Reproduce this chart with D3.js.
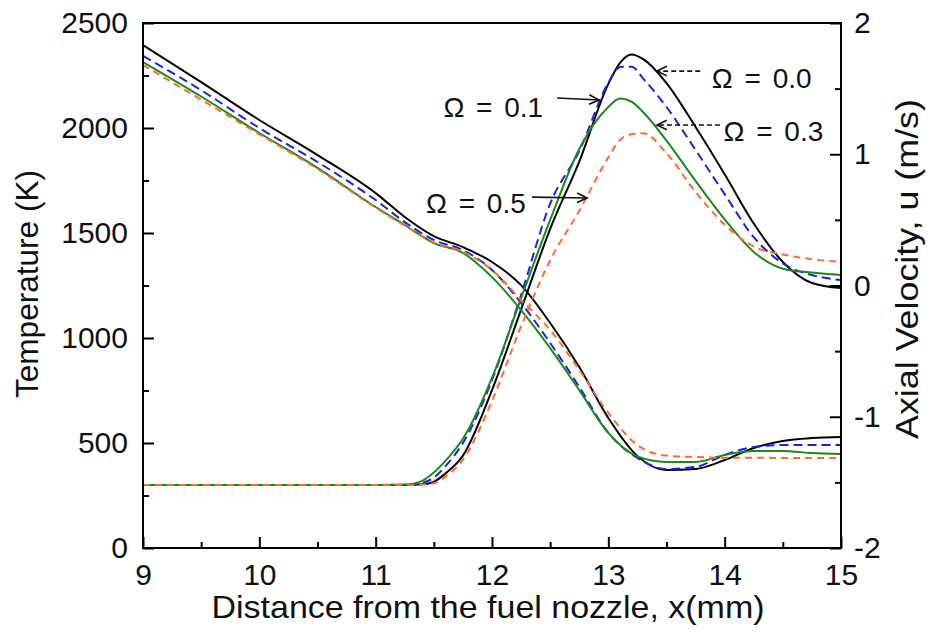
<!DOCTYPE html>
<html>
<head>
<meta charset="utf-8">
<script src="https://cdn.jsdelivr.net/npm/d3@7"></script>
<style>
  html, body { margin: 0; padding: 0; background: #fff; }
  svg { display: block; }
  text { font-family: "Liberation Sans", Arial, sans-serif; fill: #111; }
</style>
</head>
<body>
<svg id="chart" width="931" height="633"></svg>
<script>
// ---------------- data ----------------
const seriesNames = ["Ω = 0.0", "Ω = 0.1", "Ω = 0.3", "Ω = 0.5"];

// Temperature profiles (K), left axis
const xTemp = [9, 11, 11.25, 11.4, 11.5, 11.6, 11.75, 12, 12.25, 12.5, 12.75, 13, 13.1, 13.2, 13.3, 13.5, 13.75, 14, 14.25, 14.5, 14.75, 15];
const tempOmega00 = [300, 300, 300, 303, 315, 355, 440, 752, 1135, 1520, 1840, 2210, 2310, 2350, 2328, 2214, 2005, 1780, 1545, 1362, 1262, 1238];
const tempOmega01 = [300, 300, 300, 310, 335, 390, 500, 800, 1205, 1640, 1890, 2215, 2290, 2292, 2235, 2100, 1895, 1685, 1480, 1355, 1300, 1276];
const tempOmega03 = [300, 300, 302, 320, 360, 415, 520, 810, 1190, 1562, 1900, 2100, 2140, 2125, 2075, 1940, 1748, 1565, 1410, 1330, 1312, 1300];
const tempOmega05 = [300, 300, 300, 302, 308, 340, 420, 700, 1055, 1370, 1605, 1860, 1943, 1970, 1975, 1880, 1695, 1540, 1435, 1398, 1375, 1362];

// Axial velocity profiles (m/s), right axis
const xVel = [9, 9.5, 10, 10.5, 11, 11.25, 11.5, 11.75, 12, 12.25, 12.5, 12.75, 13, 13.25, 13.5, 13.75, 14, 14.25, 14.5, 14.75, 15];
const velOmega00 = [1.832, 1.550, 1.261, 0.994, 0.704, 0.522, 0.376, 0.293, 0.179, 0.003, -0.286, -0.621, -1.010, -1.300, -1.406, -1.398, -1.330, -1.238, -1.184, -1.162, -1.154];
const velOmega01 = [1.749, 1.488, 1.200, 0.941, 0.651, 0.483, 0.347, 0.270, 0.118, -0.133, -0.438, -0.773, -1.123, -1.314, -1.398, -1.382, -1.291, -1.230, -1.216, -1.216, -1.216];
const velOmega03 = [1.702, 1.440, 1.162, 0.896, 0.598, 0.461, 0.323, 0.248, 0.064, -0.187, -0.477, -0.797, -1.123, -1.302, -1.344, -1.344, -1.291, -1.261, -1.261, -1.277, -1.283];
const velOmega05 = [1.680, 1.416, 1.152, 0.888, 0.592, 0.456, 0.328, 0.256, 0.118, -0.110, -0.339, -0.643, -0.971, -1.216, -1.296, -1.307, -1.312, -1.312, -1.314, -1.314, -1.314];

// Axis ticks
const xTicks = [9, 10, 11, 12, 13, 14, 15];
const xMinorTicks = [9.5, 10.5, 11.5, 12.5, 13.5, 14.5];
const tempTicks = [0, 500, 1000, 1500, 2000, 2500];
const tempMinorTicks = [250, 750, 1250, 1750, 2250];
const velTicks = [-2, -1, 0, 1, 2];
const velMinorTicks = [-1.5, -0.5, 0.5, 1.5];

// Annotation anchors in data units (x mm, temperature K)
const annotations = [
  { label: "Ω = 0.0", textX: 13.89, textT: 2190, anchor: "start", fromX: 13.79, fromT: 2271, toX: 13.418, toT: 2271, dashed: true },
  { label: "Ω = 0.1", textX: 12.44, textT: 2052, anchor: "end",   fromX: 12.56, fromT: 2143, toX: 12.92,  toT: 2133, dashed: false },
  { label: "Ω = 0.3", textX: 13.99, textT: 1938, anchor: "start", fromX: 13.96, fromT: 2014, toX: 13.418, toT: 2014, dashed: true },
  { label: "Ω = 0.5", textX: 12.29, textT: 1595, anchor: "end",   fromX: 12.345, fromT: 1671, toX: 12.817, toT: 1667, dashed: false }
];

// ---------------- layout / style ----------------
const colors = ["#000000", "#1f1fe6", "#1a8a1a", "#ff6a33"];
const dashes = [null, "9,5", null, "7,5"];

const svg = d3.select("#chart");
const L = 143, R = 841, T = 23, B = 548;

const x = d3.scaleLinear().domain([9, 15]).range([L, R]);
const yT = d3.scaleLinear().domain([0, 2500]).range([B, T]);
const yU = d3.scaleLinear().domain([-2, 2]).range([B, T]);

const tempSeries = [tempOmega00, tempOmega01, tempOmega03, tempOmega05];
const velSeries = [velOmega00, velOmega01, velOmega03, velOmega05];

const g = svg.append("g");

const lineT = d3.line().x(d => x(d[0])).y(d => yT(d[1])).curve(d3.curveMonotoneX);
const lineU = d3.line().x(d => x(d[0])).y(d => yU(d[1])).curve(d3.curveMonotoneX);

// draw order: black first, orange on top
[0, 1, 2, 3].forEach(i => {
  g.append("path")
    .datum(xVel.map((xv, k) => [xv, velSeries[i][k]]))
    .attr("d", lineU)
    .attr("fill", "none")
    .attr("stroke", colors[i])
    .attr("stroke-width", 2)
    .attr("stroke-dasharray", dashes[i]);
  g.append("path")
    .datum(xTemp.map((xv, k) => [xv, tempSeries[i][k]]))
    .attr("d", lineT)
    .attr("fill", "none")
    .attr("stroke", colors[i])
    .attr("stroke-width", 2)
    .attr("stroke-dasharray", dashes[i]);
});

// ---------------- axes ----------------
const fontTick = 30;
function styleAxis(sel) {
  sel.select(".domain").remove();
  sel.selectAll(".tick line").attr("stroke", "#000").attr("stroke-width", 2);
  sel.selectAll(".tick text").attr("font-size", fontTick).attr("fill", "#111")
     .attr("font-family", '"Liberation Sans", Arial, sans-serif');
}

// bottom
const xAxis = svg.append("g").attr("transform", `translate(0,${B})`)
  .call(d3.axisBottom(x).tickValues(xTicks).tickSize(-11).tickPadding(16).tickFormat(d3.format("d")));
styleAxis(xAxis);
xAxis.selectAll(".tick text").attr("dy", "0.71em");
svg.append("g").attr("transform", `translate(0,${B})`)
  .call(d3.axisBottom(x).tickValues(xMinorTicks).tickSize(-6).tickFormat(""))
  .call(styleAxis);

// left
const yAxisL = svg.append("g").attr("transform", `translate(${L},0)`)
  .call(d3.axisLeft(yT).tickValues(tempTicks).tickSize(-11).tickPadding(15).tickFormat(d3.format("d")));
styleAxis(yAxisL);
svg.append("g").attr("transform", `translate(${L},0)`)
  .call(d3.axisLeft(yT).tickValues(tempMinorTicks).tickSize(-6).tickFormat(""))
  .call(styleAxis);

// right
const yAxisR = svg.append("g").attr("transform", `translate(${R},0)`)
  .call(d3.axisRight(yU).tickValues(velTicks).tickSize(-11).tickPadding(13).tickFormat(d3.format("d")));
styleAxis(yAxisR);
yAxisR.selectAll(".tick text").text(d => d < 0 ? "-" + Math.abs(d) : d);
svg.append("g").attr("transform", `translate(${R},0)`)
  .call(d3.axisRight(yU).tickValues(velMinorTicks).tickSize(-6).tickFormat(""))
  .call(styleAxis);

// frame
svg.append("rect").attr("x", L).attr("y", T).attr("width", R - L).attr("height", B - T)
  .attr("fill", "none").attr("stroke", "#000").attr("stroke-width", 2);

// titles
svg.append("text").attr("x", 488).attr("y", 618).attr("text-anchor", "middle")
  .attr("font-size", 32).attr("textLength", 553).attr("lengthAdjust", "spacingAndGlyphs")
  .text("Distance from the fuel nozzle, x(mm)");
svg.append("text").attr("transform", "translate(38,284) rotate(-90)").attr("text-anchor", "middle")
  .attr("font-size", 31).attr("textLength", 228).attr("lengthAdjust", "spacingAndGlyphs")
  .text("Temperature (K)");
svg.append("text").attr("transform", "translate(918,269) rotate(-90)").attr("text-anchor", "middle")
  .attr("font-size", 31).attr("textLength", 340).attr("lengthAdjust", "spacingAndGlyphs")
  .text("Axial Velocity, u (m/s)");

// ---------------- annotations ----------------
const ann = svg.append("g");
annotations.forEach(a => {
  const x1 = x(a.fromX), y1 = yT(a.fromT), x2 = x(a.toX), y2 = yT(a.toT);
  ann.append("line").attr("x1", x1).attr("y1", y1).attr("x2", x2).attr("y2", y2)
    .attr("stroke", "#111").attr("stroke-width", 1.6)
    .attr("stroke-dasharray", a.dashed ? "5,3" : null);
  const ang = Math.atan2(y2 - y1, x2 - x1);
  const hl = 11, hw = 0.45;
  const p1 = [x2 - hl * Math.cos(ang - hw), y2 - hl * Math.sin(ang - hw)];
  const p2 = [x2 - hl * Math.cos(ang + hw), y2 - hl * Math.sin(ang + hw)];
  ann.append("path").attr("d", `M${p1[0]},${p1[1]}L${x2},${y2}L${p2[0]},${p2[1]}`)
    .attr("fill", "none").attr("stroke", "#111").attr("stroke-width", 1.6);
  ann.append("text").attr("x", x(a.textX)).attr("y", yT(a.textT)).attr("text-anchor", a.anchor)
    .attr("font-size", 28).attr("word-spacing", "4px").text(a.label);
});
</script>
</body>
</html>
